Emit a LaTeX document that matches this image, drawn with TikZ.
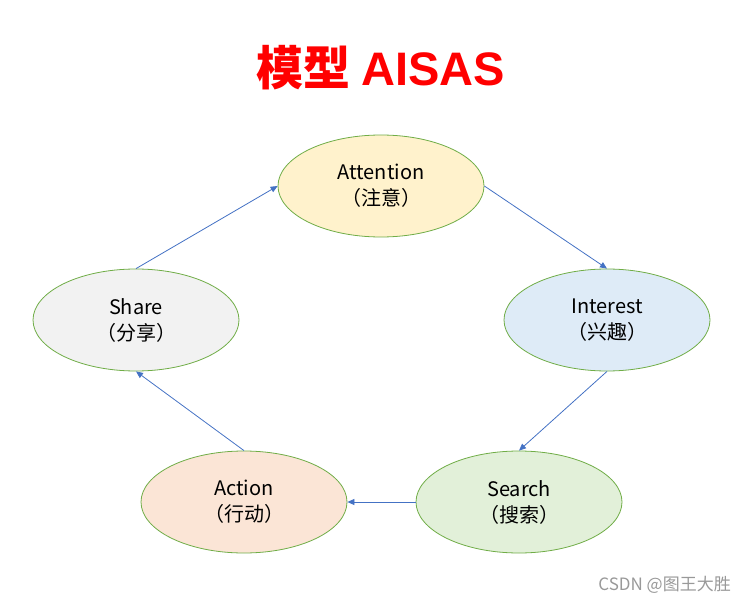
\documentclass[tikz,border=0pt]{standalone}
\usepackage{fontspec}
\setmainfont{Noto Sans CJK SC}
\newfontfamily\latinbold{Liberation Sans}[Scale=1.0]
\usetikzlibrary{shapes.geometric}
\usetikzlibrary{arrows.meta}

\definecolor{edgegreen}{HTML}{70AD47}
\definecolor{arrowblue}{HTML}{4472C4}
\definecolor{attnfill}{HTML}{FFF2CC}
\definecolor{intfill}{HTML}{DEEBF7}
\definecolor{srchfill}{HTML}{E2F0D9}
\definecolor{actfill}{HTML}{FBE5D6}
\definecolor{sharefill}{HTML}{F2F2F2}

\begin{document}
\begin{tikzpicture}[x=1pt,y=-1pt]
\useasboundingbox (0,0) rectangle (747,604);

% styles for the stages and the arrows
\tikzstyle{stage}=[ellipse,minimum width=206pt,minimum height=102pt,inner sep=0pt,draw=edgegreen,line width=0.8pt,align=center,font=\fontsize{20}{26}\selectfont]
\tikzstyle{flow}=[draw=arrowblue,line width=0.8pt,-{Triangle[length=7pt,width=6pt]}]

% title
\node (title) at (381,68) {\fontsize{47}{52}\selectfont\bfseries\color{red}模型 {\latinbold AISAS}};

% the five stages
\node (attention) [stage, fill=attnfill] at (381,186) {Attention\\（注意）};
\node (interest) [stage, fill=intfill] at (607,320) {Interest\\（兴趣）};
\node (search) [stage, fill=srchfill] at (519,502) {Search\\（搜索）};
\node (action) [stage, fill=actfill] at (244,502) {Action\\（行动）};
\node (share) [stage, fill=sharefill] at (136,320) {Share\\（分享）};

% arrows round the cycle
\draw[flow] (attention.east) -- (interest.north);
\draw[flow] (interest.south) -- (search.north);
\draw[flow] (search.west) -- (action.east);
\draw[flow] (action.north) -- (share.south);
\draw[flow] (share.north) -- (attention.west);

% watermark
\node (mark) [text=black!40, font=\fontsize{17}{20}\selectfont, anchor=east, inner sep=0pt] at (731,585) {CSDN @图王大胜};

\end{tikzpicture}
\end{document}
